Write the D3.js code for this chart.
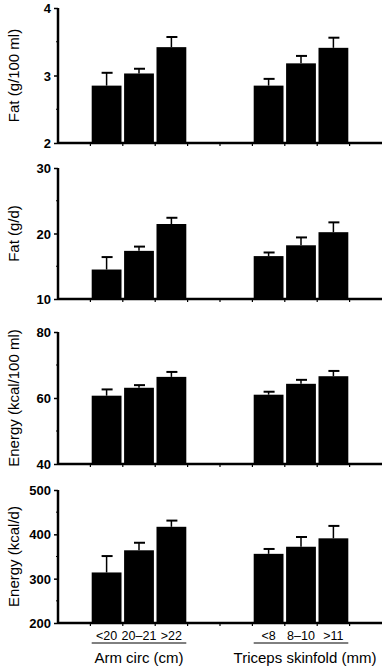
<!DOCTYPE html>
<html>
<meta charset="utf-8">
<head>
  <title>Fat and energy by arm circumference and triceps skinfold</title>
</head>
<style>
body { margin: 0; background: white; }
text { font-family: "Liberation Sans", Arial, Helvetica, sans-serif; fill: black; }
.tick-label { font-size: 13px; font-weight: bold; }
.y-title { font-size: 15px; }
.x-cat { font-size: 12.5px; }
.x-group { font-size: 15px; }
</style>
<body>
<svg width="389" height="669"></svg>

<script src="https://cdn.jsdelivr.net/npm/d3@7"></script>
<script>
var categories = ['<20', '20\u201321', '>22', '<8', '8\u201310', '>11'];
var groups = ['Arm circ (cm)', 'Triceps skinfold (mm)'];

// means and SE
var fatPer100ml = [2.85, 3.03, 3.42, 2.85, 3.18, 3.41];
var fatPer100mlSE = [0.19, 0.07, 0.15, 0.10, 0.11, 0.15];
var fatPerDay = [14.5, 17.35, 21.45, 16.55, 18.2, 20.2];
var fatPerDaySE = [1.9, 0.65, 0.95, 0.55, 1.2, 1.5];
var energyPer100ml = [60.7, 63.1, 66.4, 61.0, 64.3, 66.6];
var energyPer100mlSE = [1.9, 0.8, 1.5, 0.9, 1.2, 1.6];
var energyPerDay = [314, 364, 417, 356, 372, 391];
var energyPerDaySE = [37, 17, 14, 11, 22, 28];

var yTitles = ['Fat (g/100 ml)', 'Fat (g/d)', 'Energy (kcal/100 ml)', 'Energy (kcal/d)'];
var yDomains = [[2, 4], [10, 30], [40, 80], [200, 500]];
var yTicks = [[2, 3, 4], [10, 20, 30], [40, 60, 80], [200, 300, 400, 500]];
var yMinor = [[2.5, 3.5], [15, 25], [50, 70], [250, 350, 450]];

var panels = [
  {mean: fatPer100ml, se: fatPer100mlSE, top: 8, bottom: 143},
  {mean: fatPerDay, se: fatPerDaySE, top: 168, bottom: 299},
  {mean: energyPer100ml, se: energyPer100mlSE, top: 332, bottom: 464},
  {mean: energyPerDay, se: energyPerDaySE, top: 490, bottom: 623}
];

// ten slots along the x axis, bars sit in slots 1-3 and 6-8
var slots = [1, 2, 3, 6, 7, 8];
var x = d3.scaleBand()
  .domain(d3.range(10))
  .range([58, 382])
  .paddingInner(0.08)
  .paddingOuter(0.04);
var step = x.step();
var x0 = 58;

var svg = d3.select('svg');

panels.forEach(function(p, i) {
  var y = d3.scaleLinear().domain(yDomains[i]).range([p.bottom, p.top]);
  var g = svg.append('g');

  // bars
  g.selectAll('rect')
    .data(p.mean)
    .enter()
    .append('rect')
    .attr('x', function(d, j) { return x(slots[j]); })
    .attr('width', x.bandwidth())
    .attr('y', function(d) { return y(d); })
    .attr('height', function(d) { return p.bottom - y(d); })
    .attr('fill', 'black');

  // error bars
  var err = g.selectAll('g.err')
    .data(p.mean)
    .enter()
    .append('g')
    .attr('class', 'err')
    .attr('transform', function(d, j) { return 'translate(' + (x(slots[j]) + x.bandwidth() / 2) + ',0)'; });
  err.append('line')
    .attr('x1', 0).attr('x2', 0)
    .attr('y1', function(d) { return y(d); })
    .attr('y2', function(d, j) { return y(d + p.se[j]); })
    .attr('stroke', 'black').attr('stroke-width', 1.5);
  err.append('line')
    .attr('x1', -5).attr('x2', 6)
    .attr('y1', function(d, j) { return y(d + p.se[j]); })
    .attr('y2', function(d, j) { return y(d + p.se[j]); })
    .attr('stroke', 'black').attr('stroke-width', 2);

  // y axis
  var yAxis = d3.axisLeft(y)
    .tickValues(yTicks[i])
    .tickSize(4)
    .tickPadding(3)
    .tickFormat(d3.format('d'));
  var ya = g.append('g').attr('transform', 'translate(' + x0 + ',0)').call(yAxis);
  ya.select('.domain').attr('stroke-width', 2.5).attr('d', 'M0,' + p.top + 'V' + p.bottom);
  ya.selectAll('.tick line').attr('stroke-width', 1.5);
  ya.selectAll('.tick text').attr('class', 'tick-label').attr('dy', '0.35em');

  ya.selectAll('.minor')
    .data(yMinor[i])
    .enter()
    .append('line')
    .attr('x1', -2).attr('x2', 0)
    .attr('y1', function(d) { return y(d); })
    .attr('y2', function(d) { return y(d); })
    .attr('stroke', 'black');

  // x baseline and slot ticks
  g.append('line')
    .attr('x1', x0).attr('x2', 382)
    .attr('y1', p.bottom).attr('y2', p.bottom)
    .attr('stroke', 'black').attr('stroke-width', 2.5);
  g.selectAll('.xt')
    .data(d3.range(1, 10))
    .enter()
    .append('line')
    .attr('x1', function(k) { return x0 + k * step; })
    .attr('x2', function(k) { return x0 + k * step; })
    .attr('y1', p.bottom).attr('y2', p.bottom + 3)
    .attr('stroke', 'black').attr('stroke-width', 1.2);

  // y title
  g.append('text')
    .attr('class', 'y-title')
    .attr('transform', 'translate(19,' + ((p.top + p.bottom) / 2) + ') rotate(-90)')
    .attr('text-anchor', 'middle')
    .text(yTitles[i]);

  // category labels only below the last panel
  if (i === panels.length - 1) {
    g.selectAll('.x-cat')
      .data(categories)
      .enter()
      .append('text')
      .attr('class', 'x-cat')
      .attr('x', function(d, j) { return x(slots[j]) + x.bandwidth() / 2; })
      .attr('y', 640)
      .attr('text-anchor', 'middle')
      .text(function(d) { return d; });

    groups.forEach(function(name, k) {
      var a = x(slots[k * 3]);
      var b = x(slots[k * 3 + 2]) + x.bandwidth();
      g.append('line')
        .attr('x1', a).attr('x2', b)
        .attr('y1', 643).attr('y2', 643)
        .attr('stroke', 'black').attr('stroke-width', 1);
      g.append('text')
        .attr('class', 'x-group')
        .attr('x', k === 0 ? (a + b) / 2 : 305)
        .attr('y', 663)
        .attr('text-anchor', 'middle')
        .text(name);
    });
  }
});
</script>
</body>
</html>
